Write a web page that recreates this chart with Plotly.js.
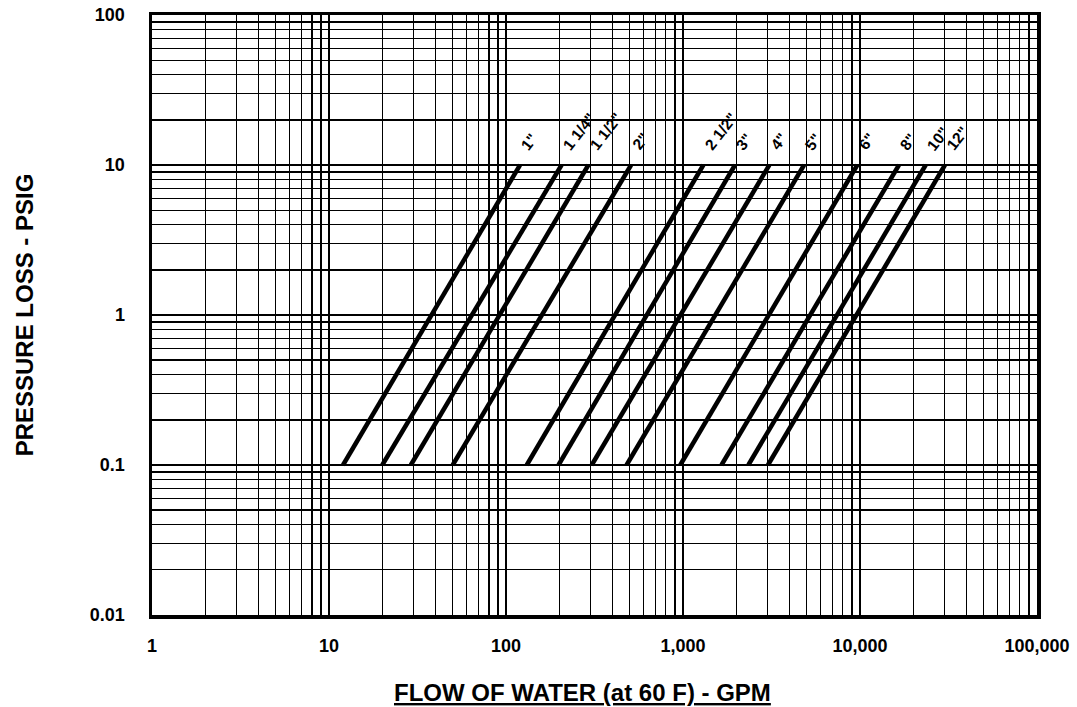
<!DOCTYPE html>
<html>
<head>
<meta charset="utf-8">
<script src="https://cdn.plot.ly/plotly-3.0.1.min.js"></script>
<style>html,body{margin:0;padding:0;background:#fff;}#chart{width:1077px;height:707px;}</style>
</head>
<body>
<div id="chart"></div>
<script>
// Pipe sizes and flow (GPM) at 0.1 psig and at 10 psig pressure loss
const pipeSizes = ['1"', '1 1/4"', '1 1/2"', '2"', '2 1/2"', '3"', '4"', '5"', '6"', '8"', '10"', '12"'];
const flowAtLow = [12, 20, 29, 50, 131, 198, 305, 480, 965, 1650, 2340, 3020];
const flowAtHigh = [120, 206, 292, 509, 1303, 1967, 3074, 4830, 9655, 16600, 23500, 30200];
const pressureLow = 0.1;
const pressureHigh = 10;

const xTickVals = [1, 10, 100, 1000, 10000, 100000];
const xTickText = ['1', '10', '100', '1,000', '10,000', '100,000'];
const yTickVals = [0.01, 0.1, 1, 10, 100];
const yTickText = ['0.01', '0.1', '1', '10', '100'];

function logGrid(vals) {
  const v = [];
  for (let i = 0; i < vals.length; i++) {
    const d = vals[i];
    for (let m = 1; m <= 9; m++) {
      if (i === vals.length - 1 && m > 1) break;
      v.push(d * m);
    }
  }
  return v;
}
const xGrid = logGrid(xTickVals);
const yGrid = logGrid(yTickVals);
const xGridText = xGrid.map(v => { const k = xTickVals.findIndex(t => Math.abs(t - v) < 1e-9); return k >= 0 ? xTickText[k] : ''; });
const yGridText = yGrid.map(v => { const k = yTickVals.findIndex(t => Math.abs(t - v) < 1e-9); return k >= 0 ? yTickText[k] : ''; });

const traces = pipeSizes.map((name, i) => ({
  type: 'scatter', mode: 'lines', name: name,
  x: [flowAtLow[i], flowAtHigh[i]],
  y: [pressureLow, pressureHigh],
  line: {color: '#000', width: 4.5},
  hoverinfo: 'x+y+name'
}));

const annotations = pipeSizes.map((name, i) => ({
  x: Math.log10(flowAtHigh[i]), y: Math.log10(pressureHigh), xref: 'x', yref: 'y',
  text: name, showarrow: false, textangle: -52,
  xanchor: 'left', yanchor: 'bottom', xshift: -5, yshift: 9,
  font: {family: 'Liberation Sans, Arial, sans-serif', size: 15.5, color: '#000', weight: 'bold'}
}));
annotations.push({
  xref: 'paper', yref: 'paper', x: (582 - 152) / 885, y: -0.13, xanchor: 'center', yanchor: 'middle',
  text: '<u>FLOW OF WATER (at 60 F) - GPM</u>', showarrow: false,
  font: {family: 'Liberation Sans, Arial, sans-serif', size: 24, color: '#000', weight: 'bold'}
});

const tickFont = {family: 'Liberation Sans, Arial, sans-serif', size: 18, color: '#000', weight: 'bold'};
const layout = {
  width: 1077, height: 707,
  margin: {l: 152, r: 40, t: 15, b: 92},
  paper_bgcolor: '#fff', plot_bgcolor: '#fff',
  showlegend: false,
  xaxis: {
    type: 'log', range: [0, 5], tickmode: 'array', tickvals: xGrid, ticktext: xGridText,
    showgrid: true, gridcolor: '#000', gridwidth: 1.3, zeroline: false,
    showline: true, mirror: true, linecolor: '#000', linewidth: 3.5,
    ticks: '', ticklabelstandoff: 12, tickfont: tickFont
  },
  yaxis: {
    type: 'log', range: [-2, 2], tickmode: 'array', tickvals: yGrid, ticktext: yGridText,
    showgrid: true, gridcolor: '#000', gridwidth: 1.3, zeroline: false,
    showline: true, mirror: true, linecolor: '#000', linewidth: 3.5,
    ticks: '', ticklabelstandoff: 20, tickfont: tickFont,
    title: {text: 'PRESSURE LOSS - PSIG', standoff: 50,
      font: {family: 'Liberation Sans, Arial, sans-serif', size: 24, color: '#000', weight: 'bold'}}
  },
  annotations: annotations
};
Plotly.newPlot('chart', traces, layout, {displayModeBar: false, staticPlot: true});
</script>
</body>
</html>
